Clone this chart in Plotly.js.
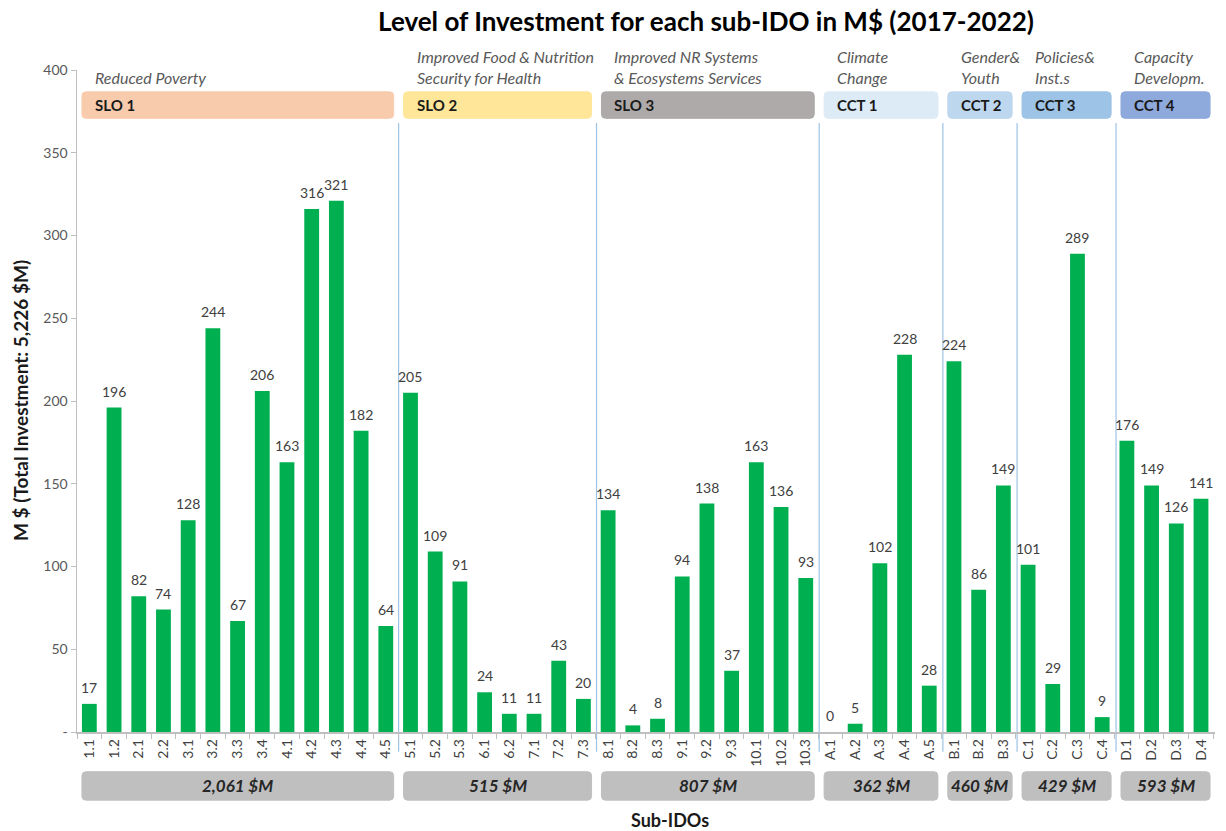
<!DOCTYPE html>
<html>
<head>
<meta charset="utf-8">
<script src="https://cdn.plot.ly/plotly-3.0.1.min.js"></script>
<style>html,body{margin:0;padding:0;background:#fff;}#chart{width:1226px;height:831px;}</style>
</head>
<body>
<div id="chart"></div>
<script>
const categories = ['1.1','1.2','2.1','2.2','3.1','3.2','3.3','3.4','4.1','4.2','4.3','4.4','4.5',
  '5.1','5.2','5.3','6.1','6.2','7.1','7.2','7.3',
  '8.1','8.2','8.3','9.1','9.2','9.3','10.1','10.2','10.3',
  'A.1','A.2','A.3','A.4','A.5',
  'B.1','B.2','B.3',
  'C.1','C.2','C.3','C.4',
  'D.1','D.2','D.3','D.4'];
const values = [17,196,82,74,128,244,67,206,163,316,321,182,64,
  205,109,91,24,11,11,43,20,
  134,4,8,94,138,37,163,136,93,
  0,5,102,228,28,
  224,86,149,
  101,29,289,9,
  176,149,126,141];
const groupSizes = [13,8,9,5,3,4,4];
const groupCodes = ['SLO 1','SLO 2','SLO 3','CCT 1','CCT 2','CCT 3','CCT 4'];
const groupNames = ['Reduced Poverty','Improved Food &amp; Nutrition<br>Security for Health','Improved NR Systems<br>&amp; Ecosystems Services','Climate<br>Change','Gender&amp;<br>Youth','Policies&amp;<br>Inst.s','Capacity<br>Developm.'];
const groupTotals = ['2,061 $M','515 $M','807 $M','362 $M','460 $M','429 $M','593 $M'];
const codeColors = ['#F8CBAD','#FFE699','#AEAAAA','#DDEBF7','#BDD7EE','#9DC3E6','#8EA9DB'];
const yTickVals = [0,50,100,150,200,250,300,350,400];
const yTickText = ['-','50','100','150','200','250','300','350','400'];

const FONT = 'Lato, "Open Sans", sans-serif';
const W = 1226, H = 831;
const M = {l:77, r:11, t:70, b:99};
const PW = W - M.l - M.r, PH = H - M.t - M.b;
const N = categories.length;
const px = i => (i + 0.5) / N;         // category index -> paper x
const rx = 4 / PW, ry = 4 / PH;         // corner radius in paper units

function roundRect(x0, x1, y0, y1) {
  return `M ${x0+rx},${y0} L ${x1-rx},${y0} Q ${x1},${y0} ${x1},${y0+ry} L ${x1},${y1-ry} Q ${x1},${y1} ${x1-rx},${y1} L ${x0+rx},${y1} Q ${x0},${y1} ${x0},${y1-ry} L ${x0},${y0+ry} Q ${x0},${y0} ${x0+rx},${y0} Z`;
}

const shapes = [], annotations = [];
let start = 0;
groupSizes.forEach((n, g) => {
  const a = start, b = start + n - 1;
  // top colored box
  const tx0 = px(a - 0.3), tx1 = px(b + 0.3);
  shapes.push({type:'path', xref:'paper', yref:'paper', path: roundRect(tx0, tx1, 0.927, 0.967),
    fillcolor: codeColors[g], line:{color: codeColors[g], width:1}, layer:'below'});
  annotations.push({xref:'paper', yref:'paper', x: tx0, y: 0.947, xshift: 11, xanchor:'left', yanchor:'middle',
    text:'<b>' + groupCodes[g] + '</b>', showarrow:false, font:{family:FONT, size:15, color:'#1a1a1a'}});
  annotations.push({xref:'paper', yref:'paper', x: tx0, y: 0.971, xshift: 11, xanchor:'left', yanchor:'bottom', align:'left',
    text:'<i>' + groupNames[g] + '</i>', showarrow:false, font:{family:FONT, size:16, color:'#595959'}});
  // bottom gray box
  const bx0 = px(a - 0.3), bx1 = px(b + 0.3);
  shapes.push({type:'path', xref:'paper', yref:'paper', path: roundRect(bx0, bx1, -0.103, -0.060),
    fillcolor:'#BFBFBF', line:{color:'#BFBFBF', width:1}, layer:'below'});
  annotations.push({xref:'paper', yref:'paper', x:(bx0+bx1)/2, y:-0.0815, xanchor:'center', yanchor:'middle',
    text:'<b><i>' + groupTotals[g] + '</i></b>', showarrow:false, font:{family:FONT, size:17, color:'#262626'}});
  // separator line
  if (g < groupSizes.length - 1) {
    const sx = px(b + 0.5);
    shapes.push({type:'line', xref:'paper', yref:'paper', x0:sx, x1:sx, y0:-0.03, y1:0.92,
      line:{color:'#9DC3E6', width:1.2}, layer:'below'});
  }
  start += n;
});

// data labels above bars, positioned through the axes (x = category index)
values.forEach((v, i) => {
  annotations.push({xref:'x', yref:'y', x:i, y:v, yanchor:'bottom', xanchor:'center', yshift:6,
    text:String(v), showarrow:false, font:{family:FONT, size:14, color:'#404040'}});
});

annotations.push({xref:'paper', yref:'paper', x:(20 - M.l)/PW, y:0.5, textangle:-90, xanchor:'center', yanchor:'middle',
  text:'<b>M $ (Total Investment: 5,226 $M)</b>', showarrow:false, font:{family:FONT, size:19, color:'#1a1a1a'}});
annotations.push({xref:'paper', yref:'paper', x:(670 - M.l)/PW, y:-(820 - M.t - PH)/PH, xanchor:'center', yanchor:'middle',
  text:'<b>Sub-IDOs</b>', showarrow:false, font:{family:FONT, size:18, color:'#1a1a1a'}});

const trace = {
  type:'bar', x:categories, y:values,
  marker:{color:'#00B050'},
  hoverinfo:'x+y'
};

const layout = {
  width:W, height:H, margin:M,
  paper_bgcolor:'#fff', plot_bgcolor:'#fff',
  showlegend:false, bargap:0.4,
  title:{text:'<b>Level of Investment for each sub-IDO in M$ (2017-2022)</b>', xref:'paper', x:(706 - M.l)/PW, xanchor:'center',
    y:1 - 22/H, yanchor:'middle', font:{family:FONT, size:26, color:'#000'}},
  xaxis:{type:'category', tickangle:-90, tickson:'boundaries', ticks:'outside', ticklen:5, tickcolor:'#BFBFBF',
    showline:true, linecolor:'#BFBFBF', linewidth:1.5, showgrid:false, zeroline:false,
    tickfont:{family:FONT, size:14, color:'#404040'}},
  yaxis:{range:[0,400], tickvals:yTickVals, ticktext:yTickText, ticks:'outside', ticklen:5, tickcolor:'#BFBFBF',
    showline:true, linecolor:'#BFBFBF', linewidth:1.5, showgrid:false, zeroline:false,
    tickfont:{family:FONT, size:14, color:'#595959'}},
  shapes, annotations,
  font:{family:FONT}
};

Plotly.newPlot('chart', [trace], layout, {displayModeBar:false, staticPlot:true});
</script>
</body>
</html>
